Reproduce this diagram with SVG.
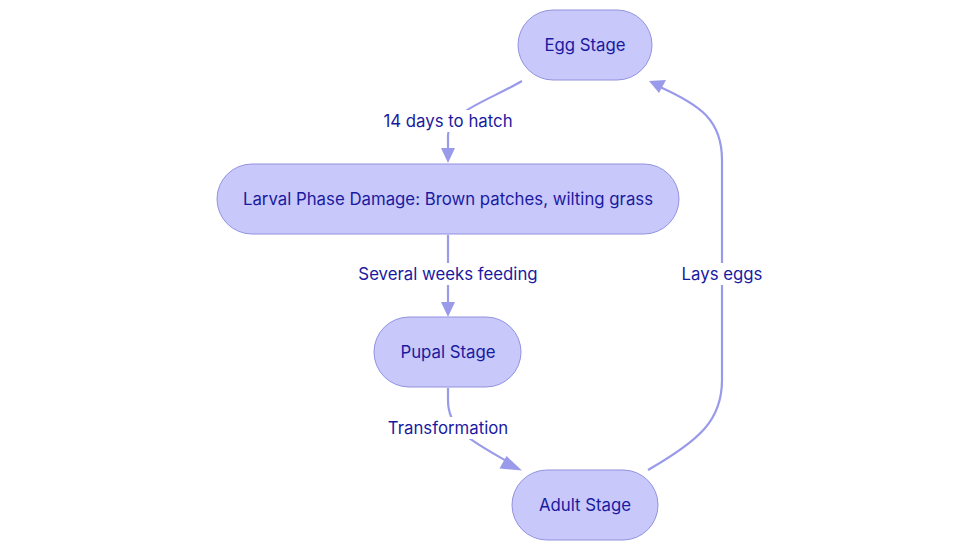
<svg xmlns="http://www.w3.org/2000/svg" width="980" height="553" viewBox="0 0 980 553">
<style>
.node rect{fill:#c8c8fa;stroke:#9292e0;stroke-width:1}
.node text,.lbl{font-family:Inter,"Noto Sans","DejaVu Sans",sans-serif;font-size:16.8px;fill:#1a1aa0;text-anchor:middle;dominant-baseline:central}
.edge{fill:none;stroke:#9a9aea;stroke-width:2.2}
.lblbg{fill:#ffffff}
</style>
<rect width="980" height="553" fill="#ffffff"/>
<g id="connectors">
<path class="edge" d="M522,81 C490,100 448,112 448,135 L448,152" />
<path d="M441,148 L455,148 L448,163 z" fill="#9a9aea"/>
<path class="edge" d="M448,235 L448,305"/>
<path d="M441,302 L455,302 L448,317 z" fill="#9a9aea"/>
<path class="edge" d="M448,388 L448,400 C448,430 470,440 510,463"/>
<path d="M506.5,456 L499.5,468.5 L522,470.5 z" fill="#9a9aea"/>
<path class="edge" d="M648,470 C700,440 722,420 722,380 L722,160 C722,120 700,105 660,87"/>
<path d="M649,81 L666,80 L659,93 z" fill="#9a9aea"/>
<rect class="lblbg" x="380" y="110" width="136" height="22"/>
<text class="lbl" x="448" y="121">14 days to hatch</text>
<rect class="lblbg" x="357" y="263" width="182" height="22"/>
<text class="lbl" x="448" y="274">Several weeks feeding</text>
<rect class="lblbg" x="384" y="417" width="128" height="22"/>
<text class="lbl" x="448" y="428">Transformation</text>
<rect class="lblbg" x="681" y="263" width="82" height="22"/>
<text class="lbl" x="722" y="274">Lays eggs</text>
</g>
<g id="egg" class="node"><rect x="518" y="10" width="134" height="70" rx="35"/><text x="585" y="45">Egg Stage</text></g>
<g id="larval" class="node"><rect x="217" y="164" width="462" height="70" rx="35"/><text x="448" y="199">Larval Phase Damage: Brown patches, wilting grass</text></g>
<g id="pupal" class="node"><rect x="374" y="317" width="147" height="70" rx="35"/><text x="448" y="352">Pupal Stage</text></g>
<g id="adult" class="node"><rect x="512" y="470" width="146" height="70" rx="35"/><text x="585" y="505">Adult Stage</text></g>
</svg>
